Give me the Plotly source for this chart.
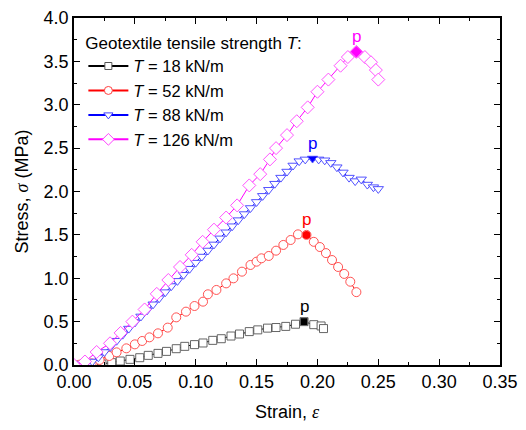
import plotly.graph_objects as go

# ---- data ----
eps_18 = [0.000, 0.008, 0.016, 0.023, 0.031, 0.038, 0.046, 0.054, 0.061, 0.069, 0.076,
          0.084, 0.091, 0.099, 0.106, 0.114, 0.121, 0.129, 0.136, 0.144, 0.151, 0.159,
          0.166, 0.174, 0.182, 0.189, 0.197, 0.203, 0.205]
sig_18 = [0.000, 0.000, 0.000, 0.012, 0.027, 0.046, 0.065, 0.084, 0.111, 0.134, 0.157,
          0.188, 0.215, 0.235, 0.254, 0.284, 0.303, 0.334, 0.357, 0.385, 0.405, 0.425,
          0.432, 0.445, 0.470, 0.500, 0.465, 0.450, 0.420]

eps_52 = [0.000, 0.005, 0.010, 0.0145, 0.021, 0.029, 0.035, 0.043, 0.050, 0.056, 0.062,
          0.069, 0.077, 0.084, 0.092, 0.099, 0.106, 0.110, 0.117, 0.125, 0.131, 0.138,
          0.145, 0.150, 0.154, 0.160, 0.166, 0.172, 0.178, 0.184, 0.191, 0.197, 0.202,
          0.207, 0.212, 0.217, 0.222, 0.227, 0.232]
sig_52 = [0.000, 0.005, 0.010, 0.019, 0.058, 0.104, 0.146, 0.192, 0.238, 0.277, 0.319,
          0.365, 0.431, 0.549, 0.615, 0.680, 0.730, 0.815, 0.865, 0.941, 0.999, 1.076,
          1.153, 1.191, 1.230, 1.257, 1.318, 1.384, 1.441, 1.506, 1.500, 1.420, 1.360,
          1.290, 1.210, 1.130, 1.050, 0.960, 0.840]

eps_88 = [0.000, 0.005, 0.010, 0.015, 0.020, 0.025, 0.030, 0.035, 0.040, 0.045, 0.050,
          0.055, 0.060, 0.065, 0.070, 0.075, 0.080, 0.085, 0.090, 0.095, 0.100, 0.105,
          0.110, 0.115, 0.120, 0.125, 0.130, 0.135, 0.140, 0.145, 0.150, 0.155, 0.160,
          0.165, 0.170, 0.175, 0.180, 0.185, 0.190, 0.196, 0.201, 0.206, 0.211, 0.216,
          0.221, 0.226, 0.231, 0.236, 0.241, 0.246, 0.250]
sig_88 = [0.000, 0.010, 0.020, 0.040, 0.090, 0.150, 0.210, 0.280, 0.350, 0.420, 0.490,
          0.560, 0.630, 0.700, 0.770, 0.840, 0.910, 0.970, 1.040, 1.110, 1.180, 1.250,
          1.320, 1.390, 1.460, 1.530, 1.600, 1.670, 1.740, 1.810, 1.880, 1.950, 2.020,
          2.090, 2.160, 2.230, 2.300, 2.350, 2.370, 2.380, 2.370, 2.360, 2.330, 2.280,
          2.220, 2.160, 2.120, 2.140, 2.080, 2.050, 2.030]

eps_126 = [0.000, 0.009, 0.0186, 0.0296, 0.0383, 0.048, 0.058, 0.068, 0.0775, 0.0871,
           0.0967, 0.1057, 0.115, 0.125, 0.134, 0.144, 0.153, 0.161, 0.166, 0.175, 0.183,
           0.192, 0.200, 0.209, 0.219, 0.225, 0.232, 0.239, 0.244, 0.248, 0.250]
sig_126 = [0.000, 0.040, 0.150, 0.250, 0.370, 0.500, 0.640, 0.820, 0.980, 1.130,
           1.270, 1.420, 1.560, 1.700, 1.840, 2.070, 2.200, 2.370, 2.500, 2.650, 2.810,
           2.970, 3.150, 3.290, 3.450, 3.550, 3.610, 3.550, 3.490, 3.400, 3.290]

peak_eps = [0.189, 0.191, 0.196, 0.232]
peak_sig = [0.500, 1.500, 2.380, 3.610]

names = ["<i>T</i> = 18 kN/m", "<i>T</i> = 52 kN/m", "<i>T</i> = 88 kN/m", "<i>T</i> = 126 kN/m"]
colors = ["#000000", "#ff0000", "#0000ff", "#ff00ff"]
mcolors = ["#555555", "#ff4040", "#4040ff", "#ff40ff"]
symbols = ["square", "circle", "triangle-down", "diamond"]
sizes = [8, 9, 9, 10]

FONT = "Arial, Liberation Sans, sans-serif"
fig = go.Figure()
series = [(eps_18, sig_18), (eps_52, sig_52), (eps_88, sig_88), (eps_126, sig_126)]
for (x, y), n, c, mc, s, sz in zip(series, names, colors, mcolors, symbols, sizes):
    fig.add_trace(go.Scatter(
        x=x, y=y, name=n, mode="lines+markers", showlegend=False,
        line=dict(color=c, width=1),
        marker=dict(symbol=s, size=sz, color="white", line=dict(width=0.9, color=mc)),
    ))

# legend entries (thicker line as in the reference legend)
for n, c, mc, s, sz in zip(names, colors, mcolors, symbols, sizes):
    fig.add_trace(go.Scatter(
        x=[None], y=[None], name=n, mode="lines+markers",
        line=dict(color=c, width=2),
        marker=dict(symbol=s, size=sz - 1, color="white", line=dict(width=1, color=mc)),
    ))

for i in range(4):
    fig.add_trace(go.Scatter(
        x=[peak_eps[i]], y=[peak_sig[i]], mode="markers", showlegend=False,
        marker=dict(symbol=symbols[i], size=sizes[i] - 1, color=colors[i]),
    ))
    fig.add_annotation(x=peak_eps[i], y=peak_sig[i], text="p", showarrow=False,
                       yshift=15, font=dict(size=17, color=colors[i], family=FONT))

GREEK = "<span style=\"font-family:'Liberation Serif',serif;font-style:italic\">%s</span>"
axis_common = dict(
    showline=True, linecolor="black", linewidth=1.5, mirror="allticks",
    ticks="inside", ticklen=6, tickwidth=1.2, tickcolor="black",
    showgrid=False, zeroline=False, automargin=False,
    tickfont=dict(size=18, family=FONT, color="black"),
)
fig.update_xaxes(range=[0, 0.35], dtick=0.05, tickformat=".2f",
                 minor=dict(dtick=0.025, ticks="inside", ticklen=3, tickcolor="black"),
                 title=dict(text="Strain, " + GREEK % "ε", standoff=14,
                            font=dict(size=18, family=FONT, color="black")),
                 **axis_common)
fig.update_yaxes(range=[0, 4.0], dtick=0.5, tickformat=".1f",
                 minor=dict(dtick=0.25, ticks="inside", ticklen=3, tickcolor="black"),
                 title=dict(text="Stress, " + GREEK % "σ" + " (MPa)", standoff=10,
                            font=dict(size=18, family=FONT, color="black")),
                 **axis_common)

fig.update_layout(
    width=526, height=430,
    margin=dict(l=74, r=26, t=18, b=65),
    plot_bgcolor="white", paper_bgcolor="white",
    font=dict(family=FONT, color="black"),
    legend=dict(
        title=dict(text="Geotextile tensile strength <i>T</i>:", font=dict(size=17, family=FONT)),
        x=0.022, y=0.975, xanchor="left", yanchor="top",
        font=dict(size=16.5, family=FONT), bgcolor="rgba(0,0,0,0)",
        tracegroupgap=0, itemwidth=40,
    ),
)

fig.write_html("out.html")
